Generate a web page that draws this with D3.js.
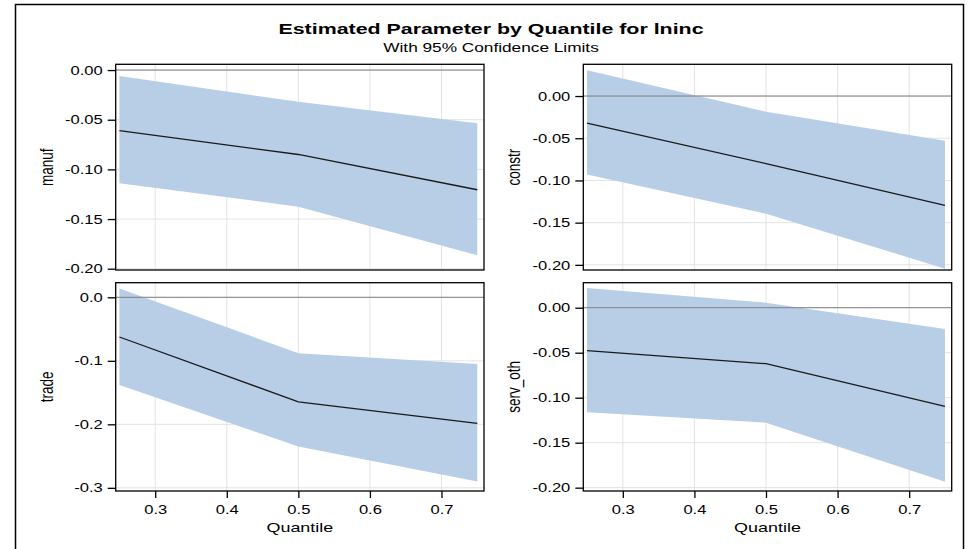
<!DOCTYPE html>
<html>
<head>
<meta charset="utf-8">
<script src="https://cdn.jsdelivr.net/npm/d3@7"></script>
<style>
  body { margin: 0; background: #fff; }
  text { font-family: "Liberation Sans", Arial, sans-serif; fill: #000; }
</style>
</head>
<body>
<svg id="chart" width="969" height="549"></svg>
<script>
// quantiles and estimates
let quantiles = [0.25, 0.5, 0.75]
let variables = ["manuf", "constr", "trade", "serv_oth"]

let estimate = {
  manuf:    [-0.061, -0.085, -0.1205],
  constr:   [-0.032, -0.080, -0.1295],
  trade:    [-0.0625, -0.1645, -0.1985],
  serv_oth: [-0.0478, -0.0622, -0.1096]
}
let upper = {
  manuf:    [-0.006, -0.032, -0.0535],
  constr:   [0.0305, -0.0185, -0.053],
  trade:    [0.014, -0.088, -0.105],
  serv_oth: [0.022, 0.0056, -0.0237]
}
let lower = {
  manuf:    [-0.114, -0.1375, -0.1865],
  constr:   [-0.093, -0.1395, -0.2045],
  trade:    [-0.138, -0.235, -0.290],
  serv_oth: [-0.1163, -0.1278, -0.1933]
}

let y_domains = {
  manuf:    [-0.2013, 0.0058],
  constr:   [-0.2061, 0.0376],
  trade:    [-0.305, 0.023],
  serv_oth: [-0.2037, 0.0278]
}
let y_ticks = {
  manuf:    [0, -0.05, -0.10, -0.15, -0.20],
  constr:   [0, -0.05, -0.10, -0.15, -0.20],
  trade:    [0, -0.1, -0.2, -0.3],
  serv_oth: [0, -0.05, -0.10, -0.15, -0.20]
}
let y_digits = {manuf: 2, constr: 2, trade: 1, serv_oth: 2}
let x_domain = [0.2448, 0.7594]
let x_ticks = [0.3, 0.4, 0.5, 0.6, 0.7]

let title = "Estimated Parameter by Quantile for lninc"
let subtitle = "With 95% Confidence Limits"
let x_label = "Quantile"

// the picture is stretched sideways, so the text is too
let sx = 1.38

let cols = [[115.7, 484], [583.3, 951.7]]
let rows = [[64.3, 270], [282.7, 491]]

let svg = d3.select("#chart")

svg.append("rect")
  .attr("x", 15.5).attr("y", 4.5)
  .attr("width", 948).attr("height", 560)
  .attr("fill", "none").attr("stroke", "#000").attr("stroke-width", 1.5)

function put_text(x, y, str, size, opts = {}) {
  let t = svg.append("text")
    .attr("transform", `translate(${x},${y}) scale(${sx},1)` + (opts.rotate ? " rotate(-90)" : ""))
    .attr("text-anchor", "middle")
    .attr("font-size", size)
    .text(str)
  if (opts.bold) t.attr("font-weight", "bold")
  if (opts.rotate) t.attr("dominant-baseline", "central")
  return t
}

put_text(491, 33.5, title, 15.5, {bold: true})
put_text(491, 52, subtitle, 12.5)

variables.forEach((v, i) => {
  let [x0, x1] = cols[i % 2]
  let [y0, y1] = rows[Math.floor(i / 2)]
  let bottom_row = Math.floor(i / 2) == 1

  let x = d3.scaleLinear().domain(x_domain).range([x0, x1])
  let y = d3.scaleLinear().domain(y_domains[v]).range([y1, y0])

  let g = svg.append("g")

  // grid
  g.selectAll(".gx").data(x_ticks).enter().append("line")
    .attr("x1", d => x(d)).attr("x2", d => x(d))
    .attr("y1", y0).attr("y2", y1)
    .attr("stroke", "#e3e3e3").attr("stroke-width", 1)
  g.selectAll(".gy").data(y_ticks[v]).enter().append("line")
    .attr("x1", x0).attr("x2", x1)
    .attr("y1", d => y(d)).attr("y2", d => y(d))
    .attr("stroke", "#e3e3e3").attr("stroke-width", 1)

  let pts = quantiles.map((q, k) => ({q: q, est: estimate[v][k], lo: lower[v][k], hi: upper[v][k]}))

  g.append("path")
    .datum(pts)
    .attr("d", d3.area().x(d => x(d.q)).y0(d => y(d.lo)).y1(d => y(d.hi)))
    .attr("fill", "#b8cee6")

  // reference line at zero
  g.append("line")
    .attr("x1", x0).attr("x2", x1)
    .attr("y1", y(0)).attr("y2", y(0))
    .attr("stroke", "#7f7f7f").attr("stroke-width", 1)

  g.append("path")
    .datum(pts)
    .attr("d", d3.line().x(d => x(d.q)).y(d => y(d.est)))
    .attr("fill", "none").attr("stroke", "#1a1a1a").attr("stroke-width", 1.3)

  g.append("rect")
    .attr("x", x0).attr("y", y0)
    .attr("width", x1 - x0).attr("height", y1 - y0)
    .attr("fill", "none").attr("stroke", "#000").attr("stroke-width", 1.3)

  // y axis
  let ya = d3.axisLeft(y).tickValues(y_ticks[v])
    .tickFormat(d => d.toFixed(y_digits[v])).tickSize(8)
  let yg = svg.append("g").attr("transform", `translate(${x0},0)`).call(ya)
  yg.attr("font-family", null)
  yg.select(".domain").remove()
  yg.selectAll("line").attr("stroke", "#000").attr("stroke-width", 1.3)
  yg.selectAll("text")
    .attr("font-size", 12).attr("fill", "#000")
    .attr("x", null).attr("dy", null)
    .attr("dominant-baseline", "central")
    .attr("transform", `translate(-13,0) scale(${sx},1)`)

  put_text(x0 - 70, (y0 + y1) / 2, v, 13.5, {rotate: true})

  if (bottom_row) {
    let xa = d3.axisBottom(x).tickValues(x_ticks)
      .tickFormat(d => d.toFixed(1)).tickSize(7)
    let xg = svg.append("g").attr("transform", `translate(0,${y1})`).call(xa)
    xg.attr("font-family", null)
    xg.select(".domain").remove()
    xg.selectAll("line").attr("stroke", "#000").attr("stroke-width", 1.3)
    xg.selectAll("text").attr("font-size", 12).attr("fill", "#000")
      .attr("y", null).attr("dy", null)
      .attr("transform", `translate(0,23) scale(${sx},1)`)
    put_text((x0 + x1) / 2, 532, x_label, 13)
  }
})
</script>
</body>
</html>
